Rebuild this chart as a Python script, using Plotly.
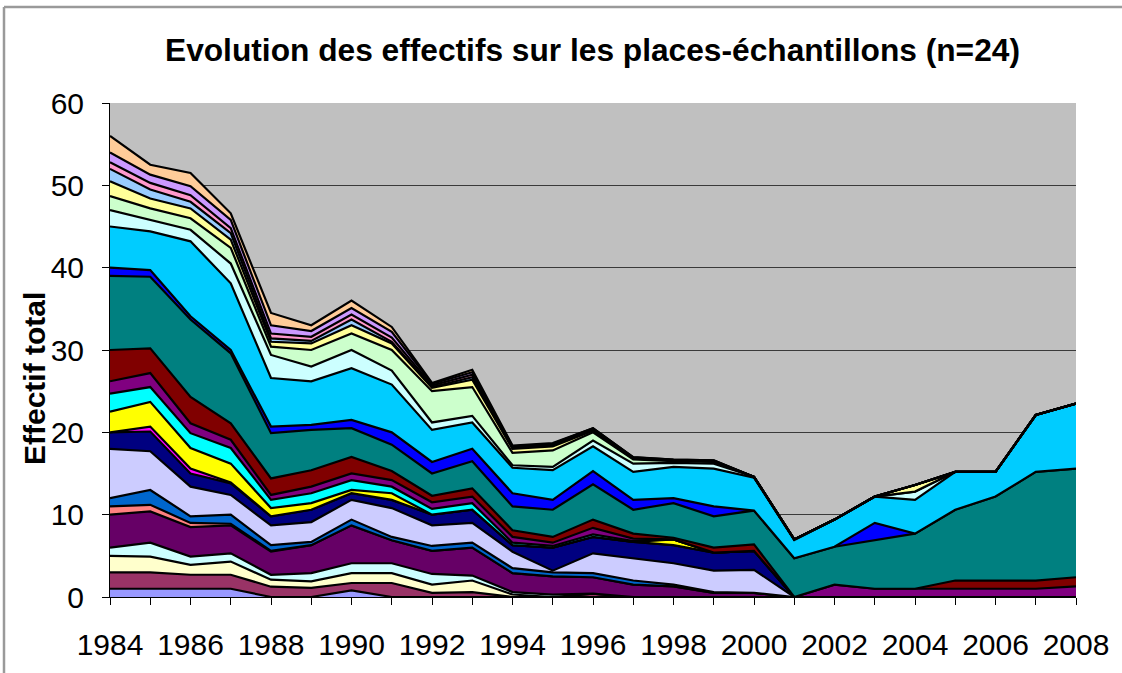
import plotly.graph_objects as go

years = [1984, 1985, 1986, 1987, 1988, 1989, 1990, 1991, 1992, 1993, 1994, 1995, 1996,
         1997, 1998, 1999, 2000, 2001, 2002, 2003, 2004, 2005, 2006, 2007, 2008]
year_labels = [str(y) if y % 2 == 0 else "" for y in years]

s01 = [1, 1, 1, 1, 0, 0, 0.8, 0, 0, 0, 0, 0, 0, 0, 0, 0, 0, 0, 0, 0, 0, 0, 0, 0, 0]
s02 = [2, 2, 1.7, 1.7, 1.25, 1.1, 0.9, 1.7, 0.5, 0.6, 0, 0, 0.4, 0, 0, 0, 0, 0, 0, 0, 0, 0, 0, 0, 0]
s03 = [2, 1.9, 1.2, 1.6, 0.85, 0.8, 1.2, 1.2, 1.0, 1.4, 0.3, 0, 0, 0, 0, 0, 0, 0, 0, 0, 0, 0, 0, 0, 0]
s04 = [1, 1.7, 1.0, 1.0, 0.6, 1.0, 1.2, 1.2, 1.3, 0.6, 0.3, 0.3, 0, 0, 0, 0, 0, 0, 0, 0, 0, 0, 0, 0, 0]
s05 = [4, 3.8, 3.6, 3.4, 2.8, 3.4, 4.6, 2.8, 2.8, 3.4, 2.3, 2.2, 2.0, 1.5, 1.3, 0.5, 0.5, 0, 0, 0, 0, 0, 0, 0, 0]
s06 = [1, 0.8, 0.5, 0.2, 0.1, 0, 0, 0, 0, 0, 0, 0, 0, 0, 0, 0, 0, 0, 0, 0, 0, 0, 0, 0, 0]
s07 = [1, 1.8, 0.8, 1.1, 0.7, 0.4, 0.7, 0.4, 0.6, 0.6, 0.6, 0.5, 0.5, 0.5, 0.2, 0.1, 0, 0, 0, 0, 0, 0, 0, 0, 0]
s08 = [6, 4.7, 3.6, 2.4, 2.4, 2.4, 2.4, 3.5, 2.5, 2.4, 2.0, 0.2, 2.4, 2.7, 2.6, 2.6, 2.8, 0, 0, 0, 0, 0, 0, 0, 0]
s09 = [2, 2.4, 1.6, 1.4, 1.1, 1.5, 0.8, 1.0, 1.3, 1.6, 0.8, 2.8, 2.0, 2.0, 2.2, 2.2, 2.3, 0, 0, 0, 0, 0, 0, 0, 0]
s10 = [0, 0.6, 0.6, 0.1, 0, 0, 0, 0, 0, 0, 0, 0, 0, 0, 0, 0, 0, 0, 0, 0, 0, 0, 0, 0, 0]
s11 = [2.5, 3.0, 2.5, 2.3, 1.0, 0.8, 0.4, 0.8, 0, 0, 0, 0, 0, 0, 0.7, 0, 0, 0, 0, 0, 0, 0, 0, 0, 0]
s12 = [2.2, 1.8, 1.8, 1.9, 1.0, 1.2, 1.2, 0.8, 0.7, 0.8, 0.3, 0.2, 0.3, 0.1, 0, 0, 0, 0, 0, 0, 0, 0, 0, 0, 0]
s13 = [1.5, 1.7, 1.2, 1.0, 0.6, 0.8, 0.8, 0.8, 0.8, 0.8, 0.7, 0.4, 0.8, 0.3, 0, 0, 0, 0, 1.5, 1.0, 1.0, 1.0, 1.0, 1.0, 1.3]
s14 = [3.8, 3.0, 3.2, 2.0, 2.0, 2.0, 2.0, 1.1, 0.8, 1.0, 0.8, 0.7, 1.0, 0.6, 0.2, 0.6, 0.8, 0, 0, 0, 0, 1.0, 1.0, 1.0, 1.1]
s15 = [9, 8.7, 9.4, 8.5, 5.5, 4.9, 3.5, 3.2, 2.7, 3.3, 2.9, 3.3, 4.3, 2.9, 4.2, 3.8, 4.1, 4.7, 4.6, 5.9, 6.7, 8.6, 10.2, 13.2, 13.2]
s16 = [1, 0.8, 0.4, 0.4, 0.8, 0.6, 1.0, 1.5, 1.4, 1.5, 1.6, 1.2, 1.6, 1.2, 0.6, 1.2, 0, 0, 0, 2.1, 0, 0, 0, 0, 0]
s17 = [5, 4.7, 9.1, 8.1, 5.9, 5.3, 6.3, 5.8, 3.9, 3.2, 3.1, 3.6, 3.0, 3.4, 3.8, 4.6, 4.0, 2.2, 3.3, 3.2, 4.1, 4.6, 3.0, 6.9, 7.9]
s18 = [2, 1.4, 1.4, 2.4, 2.8, 1.8, 2.2, 1.7, 0.9, 0.8, 0.3, 0.4, 0.7, 1.0, 0.5, 0.6, 0.1, 0.1, 0, 0, 1.0, 0, 0, 0, 0]
s19 = [1.7, 1.4, 1.4, 1.9, 1.0, 2.0, 2.0, 2.5, 3.8, 3.5, 1.5, 2.0, 1.0, 0.5, 0.2, 0.2, 0, 0, 0, 0, 0, 0, 0, 0, 0]
s20 = [1.8, 1.2, 1.2, 1.0, 0.6, 0.8, 1.0, 0.8, 0.4, 0.9, 0.5, 0.5, 0.2, 0.1, 0.1, 0.1, 0, 0, 0, 0, 0.8, 0, 0, 0, 0]
s21 = [1.5, 1.1, 0.8, 0.8, 0.4, 0.3, 0.7, 0.2, 0.1, 0.3, 0.1, 0.1, 0.1, 0.05, 0, 0, 0, 0, 0, 0, 0, 0, 0, 0, 0]
s22 = [0.8, 0.8, 0.8, 0.6, 0.6, 0.5, 0.6, 0.5, 0.2, 0.3, 0.1, 0.1, 0.1, 0.05, 0, 0, 0, 0, 0, 0, 0, 0, 0, 0, 0]
s23 = [1.2, 1.0, 1.1, 1.0, 1.0, 0.7, 0.8, 0.7, 0.2, 0.3, 0.1, 0.1, 0.1, 0.05, 0.1, 0.1, 0, 0, 0, 0, 0, 0, 0, 0, 0]
s24 = [2, 1.2, 1.6, 0.8, 1.5, 0.7, 0.9, 0.6, 0.1, 0.3, 0.1, 0.1, 0, 0.05, 0, 0, 0, 0, 0, 0, 0, 0, 0, 0, 0]

series = [s01, s02, s03, s04, s05, s06, s07, s08, s09, s10, s11, s12,
          s13, s14, s15, s16, s17, s18, s19, s20, s21, s22, s23, s24]
names = ["Place %d" % (i + 1) for i in range(len(series))]

colors = ["#9999FF", "#993366", "#FFFFCC", "#CCFFFF", "#660066", "#FF8080",
          "#0066CC", "#CCCCFF", "#000080", "#FF00FF", "#FFFF00", "#00FFFF",
          "#800080", "#800000", "#008080", "#0000FF", "#00CCFF", "#CCFFFF",
          "#CCFFCC", "#FFFF99", "#99CCFF", "#FF99CC", "#CC99FF", "#FFCC99"]

FONT = "Liberation Sans, Arial, sans-serif"

fig = go.Figure()
for vals, name, col in zip(series, names, colors):
    fig.add_trace(go.Scatter(
        x=years, y=vals, name=name, mode="lines", stackgroup="one",
        line=dict(color="black", width=2.2), fillcolor=col,
        hoverinfo="x+y+name"))

# plot area in pixels: x 110..1076, y 103..597
L, R, T, B = 110, 1076, 103, 597
W, H = 1122, 673
def px(p):
    return (p - L) / (R - L)
def py(q):
    return (B - q) / (B - T)

fig.update_layout(
    width=W, height=H, autosize=False,
    margin=dict(l=L, r=W - R, t=T, b=H - B),
    paper_bgcolor="white", plot_bgcolor="#C0C0C0",
    showlegend=False,
    font=dict(family=FONT, color="black"),
    xaxis=dict(range=[1984, 2008], tickmode="array", tickvals=years, ticktext=year_labels,
               ticks="outside", ticklen=7, tickwidth=1, tickcolor="black",
               showline=True, linecolor="black", linewidth=1, showgrid=False,
               zeroline=False, tickfont=dict(size=30, family=FONT, color="black"),
               ticklabelstandoff=14),
    yaxis=dict(range=[0, 60], dtick=10, ticks="outside", ticklen=7, tickwidth=1,
               tickcolor="black", showline=True, linecolor="black", linewidth=1,
               showgrid=True, gridcolor="#3a3a3a", gridwidth=1, zeroline=False,
               tickfont=dict(size=30, family=FONT, color="black"),
               ticklabelstandoff=12),
    annotations=[
        dict(text="<b>Evolution des effectifs sur les places-échantillons (n=24)</b>",
             xref="paper", yref="paper", x=px(592), y=py(50), xanchor="center",
             yanchor="middle", showarrow=False, font=dict(size=31.7, family=FONT, color="black")),
        dict(text="<b>Effectif total</b>", textangle=-90,
             xref="paper", yref="paper", x=px(34), y=py(379), xanchor="center",
             yanchor="middle", showarrow=False, font=dict(size=30, family=FONT, color="black")),
    ],
    shapes=[
        dict(type="line", xref="paper", yref="paper", x0=px(4), x1=px(4), y0=py(7), y1=py(700),
             line=dict(color="#9a9a9a", width=2.5)),
        dict(type="line", xref="paper", yref="paper", x0=px(4), x1=px(1140), y0=py(7), y1=py(7),
             line=dict(color="#9a9a9a", width=2.5)),
    ],
)

fig.write_html("out.html", config={"displayModeBar": False},
               post_script="document.body.style.margin='0';document.body.style.overflow='hidden';")
